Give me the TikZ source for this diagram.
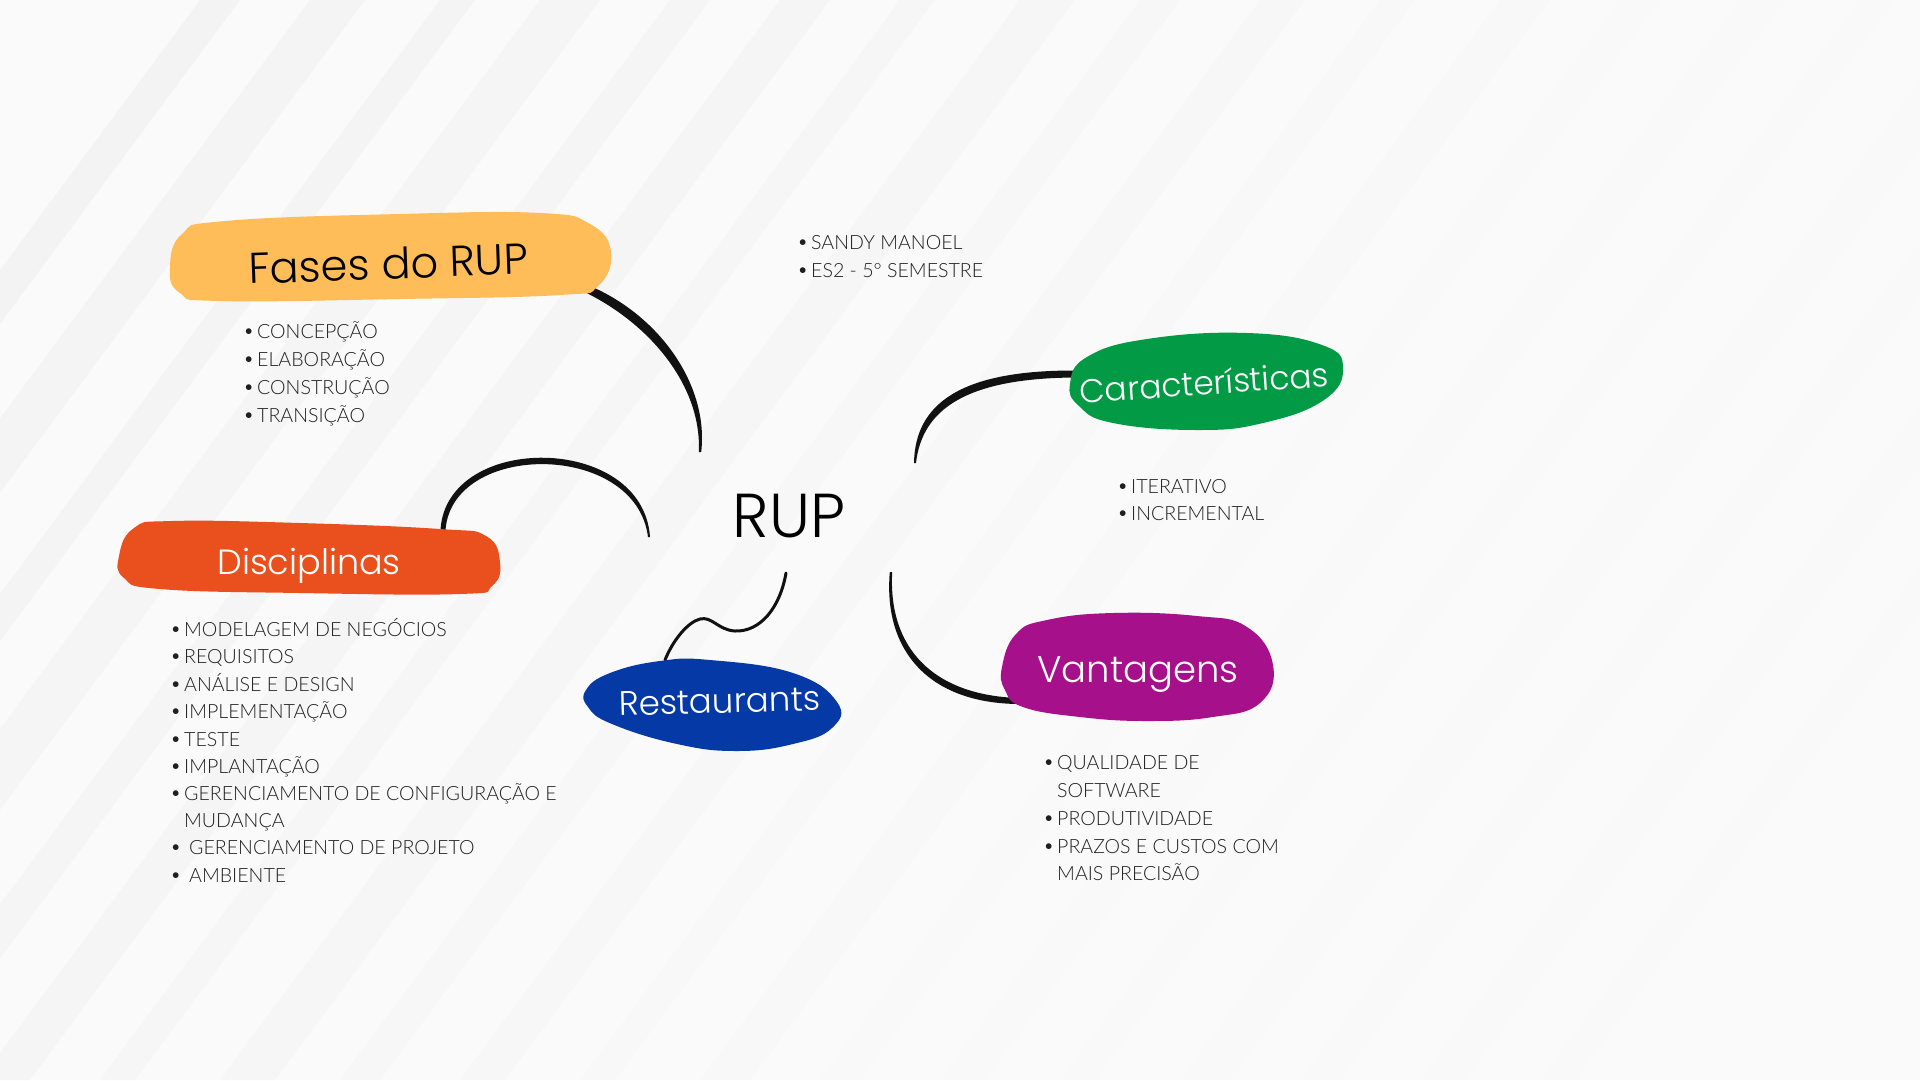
\documentclass[tikz,border=0pt]{standalone}
\usepackage{fontspec}
\newfontfamily\listfont{Lato Light}
\newfontfamily\headfont{Poppins Light}
\definecolor{bgcol}{HTML}{FAFAFA}
\definecolor{streak}{HTML}{E4E4E4}
\definecolor{fasescol}{HTML}{FFBD59}
\definecolor{disccol}{HTML}{E9501E}
\definecolor{carcol}{HTML}{029A45}
\definecolor{restcol}{HTML}{0439A6}
\definecolor{vantcol}{HTML}{A6108A}
\definecolor{inkcol}{HTML}{111111}
\tikzset{
  item/.style={anchor=base west, inner sep=0pt, font=\listfont\fontsize{19.6}{24}\selectfont, text=black!88},
  head/.style={anchor=base, inner sep=0pt},
  ink/.style={fill=inkcol},
  wire/.style={draw=inkcol, line width=3pt, line cap=round},
  blob/.style={smooth cycle, tension=0.75},
}
\newcommand{\bul}{\makebox[14pt][l]{\raisebox{0.5pt}{•}}}
\begin{document}
\begin{tikzpicture}[x=1pt,y=-1pt]
% background
\fill[bgcol] (0,0) rectangle (1920,1080);
\useasboundingbox (0,0) rectangle (1920,1080);
\foreach \s/\w in {-300/40,-190/55,-60/35,40/60,170/40,280/50,400/35,520/55,640/40,760/45,880/35,1000/50,1120/40,1240/45,1360/35,1480/50,1600/40,1720/45,1840/35}{
  \pgfmathsetmacro{\op}{max(0.02,0.28-(\s+300)/6000)}
  \fill[streak, opacity=\op] (\s+500,0) -- (\s+500+\w,0) -- (\s-300+\w,1080) -- (\s-300,1080) -- cycle;
}

% ---------- connectors ----------
\coordinate (fA) at (585,288);
\coordinate (fB) at (700,452);
\fill[ink] ([shift={(1.5,-3.5)}]fA) .. controls (659,314) and (709,385) .. ([shift={(1.2,0)}]fB)
  -- ([shift={(-1.2,0)}]fB) .. controls (702,387) and (651,324) .. ([shift={(-1.5,3.5)}]fA) -- cycle;

\coordinate (dA) at (443,530);
\coordinate (dB) at (649,537);
\fill[ink] ([shift={(-2.5,0)}]dA) .. controls (446,432) and (643,433) .. ([shift={(1,0)}]dB)
  -- ([shift={(-1,0)}]dB) .. controls (636,441) and (452,441) .. ([shift={(2.5,0)}]dA) -- cycle;

\coordinate (cA) at (915,463);
\coordinate (cB) at (1076,374);
\fill[ink] ([shift={(-1,0)}]cA) .. controls (915,404) and (960,370) .. ([shift={(0,-3.5)}]cB)
  -- ([shift={(0,3.5)}]cB) .. controls (965,378) and (922,410) .. ([shift={(1,0)}]cA) -- cycle;

\coordinate (rA) at (786,573);
\coordinate (rB) at (665,660);
\draw[wire] (rA) .. controls (780,608) and (760,632) .. (735,631)
  .. controls (718,630) and (712,616) .. (700,619)
  .. controls (688,622) and (673,640) .. (rB);

\coordinate (vA) at (891,572);
\coordinate (vB) at (1018,701);
\fill[ink] ([shift={(-1.2,0)}]vA) .. controls (883,651) and (929,703) .. ([shift={(0,3)}]vB)
  -- ([shift={(0,-3)}]vB) .. controls (933,695) and (888,648) .. ([shift={(1.2,0)}]vA) -- cycle;

% ---------- blobs ----------
\fill[fasescol] plot[blob] coordinates {(170,268) (182,234) (225,221) (400,214) (540,213) (590,224) (611,252) (598,286) (560,295) (400,299) (220,301) (180,293)};
\fill[disccol] plot[blob] coordinates {(119,556) (134,528) (172,521) (300,523) (440,529) (486,536) (500,562) (492,586) (460,594) (300,593) (160,589) (124,578)};
\fill[carcol] plot[blob] coordinates {(1070,384) (1087,357) (1147,339) (1247,333) (1322,345) (1343,368) (1324,400) (1263,423) (1197,430) (1113,423) (1079,406)};
\fill[restcol] plot[blob] coordinates {(586,690) (610,673) (660,661) (710,660) (793,673) (837,702) (832,728) (793,744) (737,751) (677,744) (612,724) (588,707)};
\fill[vantcol] plot[blob] coordinates {(1002,667) (1016,634) (1047,620) (1113,613) (1197,616) (1247,627) (1273,665) (1260,703) (1213,717) (1147,721) (1080,717) (1023,707) (1005,690)};

% ---------- headings ----------
\node[head, rotate=2, font=\headfont\fontsize{43}{43}\selectfont, text=black] (fases) at (389,279) {Fases do RUP};
\node[head, font=\headfont\fontsize{62}{62}\selectfont, text=black] (rup) at (789,537) {RUP};
\node[head, font=\headfont\fontsize{35}{35}\selectfont, text=white] (disc) at (309,574) {Disciplinas};
\node[head, rotate=4, font=\headfont\fontsize{33}{33}\selectfont, text=white] (car) at (1205,395) {Características};
\node[head, rotate=1.5, font=\headfont\fontsize{34}{34}\selectfont, text=white] (rest) at (720,713) {Restaurants};
\node[head, font=\headfont\fontsize{37}{37}\selectfont, text=white] (vant) at (1138,682) {Vantagens};

% ---------- lists ----------
\foreach \n/\y/\t in {f1/338/CONCEPÇÃO, f2/366/ELABORAÇÃO, f3/394/CONSTRUÇÃO, f4/422/TRANSIÇÃO}{
  \node[item] (\n) at (243,\y) {\bul\t};
}
\foreach \n/\y/\t in {s1/249/SANDY MANOEL, s2/277/ES2 - 5° SEMESTRE}{
  \node[item] (\n) at (797,\y) {\bul\t};
}
\foreach \n/\y/\t in {c1/493/ITERATIVO, c2/520/INCREMENTAL}{
  \node[item] (\n) at (1117,\y) {\bul\t};
}
\foreach \n/\y/\t in {d1/636/MODELAGEM DE NEGÓCIOS, d2/663/REQUISITOS, d3/691/ANÁLISE E DESIGN, d4/718/IMPLEMENTAÇÃO, d5/746/TESTE, d6/773/IMPLANTAÇÃO, d7/800/GERENCIAMENTO DE CONFIGURAÇÃO E}{
  \node[item] (\n) at (170,\y) {\bul\t};
}
\node[item] (d7b) at (184,827) {MUDANÇA};
\node[item] (d8) at (170,854) {\bul\hspace{5pt}GERENCIAMENTO DE PROJETO};
\node[item] (d9) at (170,882) {\bul\hspace{5pt}AMBIENTE};
\node[item] (v1) at (1043,769) {\bul QUALIDADE DE};
\node[item] (v1b) at (1057,797) {SOFTWARE};
\node[item] (v2) at (1043,825) {\bul PRODUTIVIDADE};
\node[item] (v3) at (1043,853) {\bul PRAZOS E CUSTOS COM};
\node[item] (v3b) at (1057,880) {MAIS PRECISÃO};
\end{tikzpicture}
\end{document}
